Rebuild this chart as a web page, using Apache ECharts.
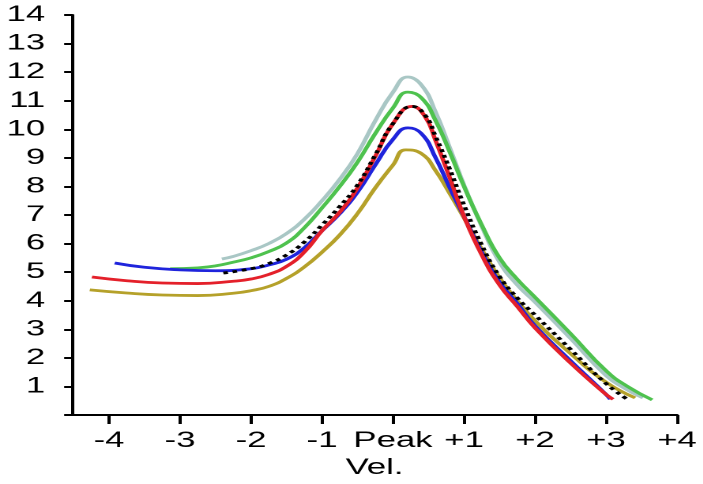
<!DOCTYPE html>
<html>
<head>
<meta charset="utf-8">
<script src="https://cdn.jsdelivr.net/npm/echarts@6/dist/echarts.min.js"></script>
<style>
  html, body { margin: 0; padding: 0; background: #fff; overflow: hidden; }
  /* the plot is laid out narrow and widened horizontally */
  #chart { width: 445px; height: 484px; transform: scaleX(1.58); transform-origin: 0 0; }
</style>
</head>
<body>
<div id="chart"></div>
<script>
// x-axis ticks (velocity relative to peak) and their labels
const tickValues = [-4, -3, -2, -1, 0, 1, 2, 3, 4];
const tickLabels = ['-4', '-3', '-2', '-1', 'Peak', '+1', '+2', '+3', '+4'];

// curves: x positions and values
const grayX  = [-2.41, -2.25, -2.0, -1.75, -1.5, -1.25, -1.0, -0.75, -0.5, -0.25, 0.0, 0.21, 0.4, 0.6, 0.8, 1.0, 1.25, 1.5, 1.75, 2.0, 2.5, 3.0, 3.25, 3.52];
const grayY  = [5.46, 5.55, 5.75, 6.0, 6.35, 6.85, 7.5, 8.25, 9.15, 10.3, 11.3, 11.83, 11.55, 10.6, 9.35, 8.05, 6.6, 5.35, 4.55, 3.95, 2.68, 1.38, 0.95, 0.6];

const greenX = [-3.14, -2.75, -2.5, -2.25, -2.0, -1.75, -1.5, -1.25, -1.0, -0.75, -0.5, -0.25, 0.0, 0.21, 0.4, 0.6, 0.8, 1.0, 1.25, 1.5, 1.75, 2.0, 2.5, 3.0, 3.3, 3.65];
const greenY = [5.12, 5.15, 5.22, 5.35, 5.5, 5.72, 6.02, 6.55, 7.25, 8.0, 8.85, 9.85, 10.75, 11.3, 11.1, 10.3, 9.2, 8.0, 6.65, 5.5, 4.75, 4.12, 2.85, 1.55, 1.0, 0.53];

const oliveX = [-4.27, -3.75, -3.25, -2.75, -2.25, -2.0, -1.75, -1.5, -1.25, -1.0, -0.75, -0.5, -0.25, 0.0, 0.18, 0.4, 0.6, 0.8, 1.0, 1.25, 1.5, 1.75, 2.0, 2.5, 3.0, 3.41];
const oliveY = [4.38, 4.27, 4.2, 4.18, 4.26, 4.35, 4.5, 4.78, 5.18, 5.7, 6.3, 7.05, 7.95, 8.75, 9.28, 9.15, 8.55, 7.75, 6.9, 5.8, 4.8, 4.0, 3.3, 2.15, 1.15, 0.6];

const blueX  = [-3.92, -3.5, -3.0, -2.5, -2.0, -1.75, -1.5, -1.25, -1.0, -0.75, -0.5, -0.25, 0.0, 0.21, 0.4, 0.6, 0.8, 1.0, 1.25, 1.5, 1.75, 2.0, 2.5, 3.0, 3.06];
const blueY  = [5.32, 5.17, 5.08, 5.05, 5.12, 5.25, 5.45, 5.85, 6.45, 7.05, 7.8, 8.75, 9.65, 10.05, 9.85, 9.0, 7.95, 6.95, 5.7, 4.65, 3.9, 3.12, 1.9, 0.72, 0.55];

const redX   = [-4.24, -3.75, -3.25, -2.75, -2.25, -2.0, -1.75, -1.5, -1.25, -1.0, -0.75, -0.5, -0.25, 0.0, 0.27, 0.45, 0.6, 0.8, 1.0, 1.25, 1.5, 1.75, 2.0, 2.5, 3.0, 3.1];
const redY   = [4.83, 4.7, 4.62, 4.6, 4.68, 4.76, 4.92, 5.2, 5.7, 6.45, 7.1, 7.95, 9.05, 10.2, 10.8, 10.45, 9.6, 8.3, 6.95, 5.6, 4.55, 3.8, 3.05, 1.82, 0.72, 0.55];

const blackX = [-2.39, -2.0, -1.75, -1.5, -1.25, -1.0, -0.75, -0.5, -0.25, 0.0, 0.27, 0.45, 0.6, 0.8, 1.0, 1.25, 1.5, 1.75, 2.0, 2.5, 3.0, 3.3];
const blackY = [4.97, 5.12, 5.3, 5.6, 6.05, 6.65, 7.3, 8.05, 9.1, 10.2, 10.8, 10.5, 9.75, 8.6, 7.35, 5.95, 4.85, 4.1, 3.5, 2.3, 1.1, 0.55];

const zip = (xs, ys) => xs.map((x, i) => [x, ys[i]]);

const FONT = '"Liberation Sans", Arial, Helvetica, sans-serif';

function curve(name, xs, ys, color, extra) {
  return Object.assign({
    name: name,
    type: 'line',
    data: zip(xs, ys),
    smooth: 0.5,
    showSymbol: false,
    silent: true,
    lineStyle: { color: color, width: 2.8 },
    itemStyle: { color: color }
  }, extra || {});
}

const chart = echarts.init(document.getElementById('chart'), null, { renderer: 'canvas', devicePixelRatio: 2 });

chart.setOption({
  animation: false,
  backgroundColor: '#ffffff',
  grid: { left: 45.6, right: 16.5, top: 15, bottom: 69, containLabel: false },
  xAxis: {
    type: 'value',
    min: -4.52,
    max: 4,
    name: 'Vel.',
    nameLocation: 'middle',
    nameGap: 38,
    nameTextStyle: { color: '#000', fontSize: 22, fontFamily: FONT },
    axisLine: { show: true, onZero: false, lineStyle: { color: '#000', width: 2 } },
    axisTick: { show: true, inside: false, length: 9, customValues: tickValues, lineStyle: { color: '#000', width: 2 } },
    axisLabel: {
      show: true,
      customValues: tickValues,
      margin: 15,
      color: '#000',
      fontSize: 22,
      fontFamily: FONT,
      formatter: v => tickLabels[tickValues.indexOf(Math.round(v))]
    },
    splitLine: { show: false }
  },
  yAxis: {
    type: 'value',
    min: 0,
    max: 14,
    interval: 1,
    axisLine: { show: true, onZero: false, lineStyle: { color: '#000', width: 2 } },
    axisTick: { show: true, inside: false, length: 5, lineStyle: { color: '#000', width: 2 } },
    axisLabel: {
      show: true,
      margin: 17,
      color: '#000',
      fontSize: 22,
      fontFamily: FONT,
      formatter: v => (v === 0 ? '' : String(v))
    },
    splitLine: { show: false }
  },
  series: [
    curve('gray', grayX, grayY, '#a9c7c5'),
    curve('green', greenX, greenY, '#4ec24e'),
    curve('olive', oliveX, oliveY, '#b5a12a'),
    curve('blue', blueX, blueY, '#1f24dc'),
    curve('red', redX, redY, '#e4202a'),
    curve('black', blackX, blackY, '#000000', {
      lineStyle: { color: '#000000', width: 2.8, type: [3, 3] }
    })
  ]
});
</script>
</body>
</html>
